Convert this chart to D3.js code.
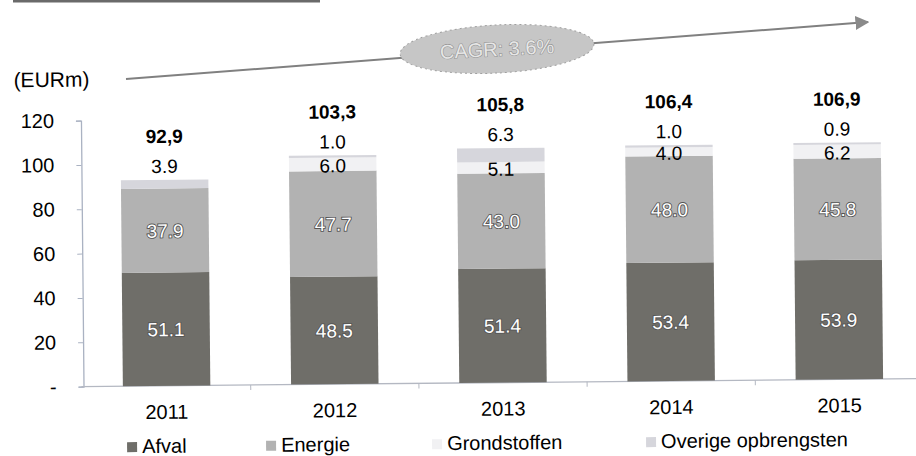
<!DOCTYPE html>
<html>
<head>
<meta charset="utf-8">
<script src="https://cdn.jsdelivr.net/npm/d3@7"></script>
<style>
  body { margin: 0; background: #fff; }
  svg { display: block; font-family: "Liberation Sans", Arial, sans-serif; }
</style>
</head>
<body>
<div id="chart"></div>
<script>
(function () {
    // data
    var years = ["2011", "2012", "2013", "2014", "2015"];
    var afval = [51.1, 48.5, 51.4, 53.4, 53.9];
    var energie = [37.9, 47.7, 43.0, 48.0, 45.8];
    var grondstoffen = [0, 6.0, 5.1, 4.0, 6.2];
    var overige = [3.9, 1.0, 6.3, 1.0, 0.9];
    var totals = ["92,9", "103,3", "105,8", "106,4", "106,9"];
    var yTicks = [0, 20, 40, 60, 80, 100, 120];
    var seriesNames = ["Afval", "Energie", "Grondstoffen", "Overige opbrengsten"];
    var cagrLabel = "CAGR: 3.6%";

    var width = 916, height = 456;
    var colors = ["#6f6e69", "#b2b2b2", "#f1f1f3", "#d6d6dc"];

    var svg = d3.select("#chart").append("svg")
        .attr("width", width)
        .attr("height", height);

    // scanned slide is a little tilted
    var g = svg.append("g").attr("transform", "rotate(-0.55,458,228)");

    // header rule
    svg.append("line")
        .attr("x1", 13).attr("x2", 320).attr("y1", 1).attr("y2", 1)
        .attr("stroke", "#6a6a6a").attr("stroke-width", 3);

    var y = d3.scaleLinear().domain([0, 120]).range([383, 117]);
    var x = d3.scaleBand().domain(years).range([81, 922])
        .paddingInner(0.48).paddingOuter(0.24);

    var rows = years.map(function (yr, i) {
        return {year: yr, s0: afval[i], s1: energie[i], s2: grondstoffen[i], s3: overige[i]};
    });
    var stack = d3.stack().keys(["s0", "s1", "s2", "s3"]);
    var layers = stack(rows);

    // y axis
    var yAxis = g.append("g")
        .attr("transform", "translate(82,0)")
        .call(d3.axisLeft(y).tickValues(yTicks).tickSize(5).tickPadding(22)
            .tickFormat(function (d) { return d === 0 ? "-" : d; }));
    yAxis.select(".domain").attr("stroke", "#aab2c2").attr("stroke-width", 1.3);
    yAxis.selectAll(".tick line").attr("stroke", "#aab2c2");
    yAxis.selectAll("text").attr("font-size", 20).attr("fill", "#000")
        .attr("font-family", "Liberation Sans, Arial, sans-serif");

    // x axis baseline + ticks between bars
    g.append("line")
        .attr("x1", 80).attr("x2", 916).attr("y1", y(0)).attr("y2", y(0))
        .attr("stroke", "#b4b8c2").attr("stroke-width", 1.3);
    g.selectAll(".xtick").data(years.slice(1)).enter().append("line")
        .attr("x1", function (d) { return x(d) - x.step() * x.paddingInner() / 2; })
        .attr("x2", function (d) { return x(d) - x.step() * x.paddingInner() / 2; })
        .attr("y1", y(0)).attr("y2", y(0) + 5)
        .attr("stroke", "#b4b8c2");

    g.selectAll(".xlabel").data(years).enter().append("text")
        .attr("x", function (d) { return x(d) + x.bandwidth() / 2; })
        .attr("y", y(0) + 33)
        .attr("text-anchor", "middle")
        .attr("font-size", 20).attr("fill", "#000")
        .text(function (d) { return d; });

    // bars
    layers.forEach(function (layer, k) {
        g.selectAll(".seg" + k).data(layer).enter().append("rect")
            .attr("x", function (d) { return x(d.data.year); })
            .attr("width", x.bandwidth())
            .attr("y", function (d) { return y(d[1]); })
            .attr("height", function (d) { return y(d[0]) - y(d[1]); })
            .attr("fill", colors[k]);
    });

    // inside labels (Afval, Energie) - white with dark edge
    [0, 1].forEach(function (k) {
        g.selectAll(".lab" + k).data(layers[k]).enter().append("text")
            .attr("x", function (d) { return x(d.data.year) + x.bandwidth() / 2; })
            .attr("y", function (d) { return (y(d[0]) + y(d[1])) / 2 + 7; })
            .attr("text-anchor", "middle")
            .attr("font-size", 19)
            .attr("fill", "#fff")
            .attr("stroke", "#555").attr("stroke-width", 1.8)
            .attr("paint-order", "stroke")
            .text(function (d) { return (d[1] - d[0]).toFixed(1); });
    });

    // Grondstoffen labels centred in segment
    g.selectAll(".lab2").data(layers[2].filter(function (d) { return d[1] - d[0] > 0; }))
        .enter().append("text")
        .attr("x", function (d) { return x(d.data.year) + x.bandwidth() / 2; })
        .attr("y", function (d) { return (y(d[0]) + y(d[1])) / 2 + 8; })
        .attr("text-anchor", "middle")
        .attr("font-size", 19).attr("fill", "#000")
        .text(function (d) { return (d[1] - d[0]).toFixed(1); });

    // Overige labels above the bar
    g.selectAll(".lab3").data(layers[3]).enter().append("text")
        .attr("x", function (d) { return x(d.data.year) + x.bandwidth() / 2; })
        .attr("y", function (d) { return y(d[1]) - 7; })
        .attr("text-anchor", "middle")
        .attr("font-size", 19).attr("fill", "#000")
        .text(function (d) { return (d[1] - d[0]).toFixed(1); });

    // totals
    g.selectAll(".total").data(layers[3]).enter().append("text")
        .attr("x", function (d) { return x(d.data.year) + x.bandwidth() / 2; })
        .attr("y", function (d) { return y(d[1]) - 37; })
        .attr("text-anchor", "middle")
        .attr("font-size", 19).attr("font-weight", "bold").attr("fill", "#000")
        .text(function (d, i) { return totals[i]; });

    // unit label
    g.append("text")
        .attr("x", 15).attr("y", 83)
        .attr("font-size", 21).attr("fill", "#000")
        .text("(EURm)");

    // CAGR arrow
    svg.append("defs").append("marker")
        .attr("id", "arr").attr("viewBox", "0 0 10 10")
        .attr("refX", 9).attr("refY", 5)
        .attr("markerWidth", 7).attr("markerHeight", 7)
        .attr("orient", "auto")
        .append("path").attr("d", "M0,0 L10,5 L0,10 z").attr("fill", "#8a8a8a");

    svg.append("line")
        .attr("x1", 126).attr("y1", 79).attr("x2", 868).attr("y2", 22)
        .attr("stroke", "#808080").attr("stroke-width", 2)
        .attr("marker-end", "url(#arr)");

    var cagr = svg.append("g").attr("transform", "translate(497,49) rotate(-3)");
    cagr.append("ellipse")
        .attr("rx", 97).attr("ry", 24)
        .attr("fill", "#c6c6c6")
        .attr("stroke", "#a0a0a0").attr("stroke-dasharray", "2,3");
    cagr.append("text")
        .attr("y", 7).attr("text-anchor", "middle")
        .attr("font-size", 20).attr("fill", "#e6e6e6")
        .attr("stroke", "#909090").attr("stroke-width", 1.1)
        .attr("paint-order", "stroke")
        .text(cagrLabel);

    // legend
    var legendX = [125, 264, 430, 644];
    var leg = g.selectAll(".leg").data(seriesNames).enter().append("g")
        .attr("transform", function (d, i) { return "translate(" + legendX[i] + ",450)"; });
    leg.append("rect")
        .attr("y", -11).attr("width", 10).attr("height", 10)
        .attr("fill", function (d, i) { return colors[i]; });
    leg.append("text")
        .attr("x", 15).attr("y", 0)
        .attr("font-size", 20).attr("fill", "#000")
        .text(function (d) { return d; });
}());
</script>
</body>
</html>
